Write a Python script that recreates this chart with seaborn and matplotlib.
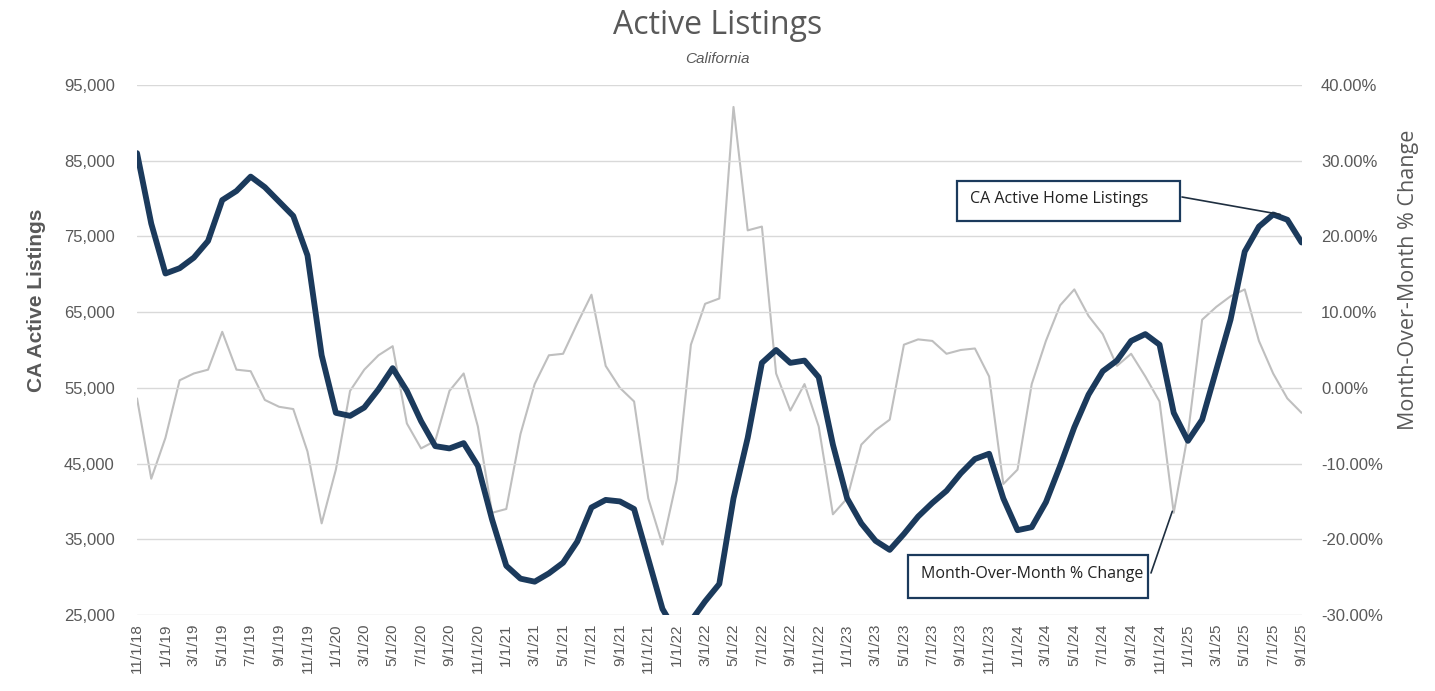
import pandas as pd
import numpy as np
import matplotlib.pyplot as plt
import seaborn as sns
from matplotlib.patches import Rectangle
from matplotlib.ticker import FuncFormatter

# monthly data, 11/1/18 .. 9/1/25
months = pd.date_range("2018-11-01", "2025-09-01", freq="MS")
month_labels = [f"{d.month}/{d.day}/{d.year % 100}" for d in months]

active_listings = [
    86000, 76700, 70100, 70800, 72200, 74400, 79800, 81000, 82900, 81500,
    79600, 77700, 72500, 59300, 51700, 51300, 52400, 54800, 57600, 54600,
    50600, 47300, 47000, 47700, 44700, 37600, 31500, 29800, 29400, 30500,
    31900, 34700, 39200, 40200, 40000, 39000, 32400, 25800, 22600, 24200,
    26800, 29100, 40400, 48400, 58300, 60000, 58300, 58600, 56400, 47500,
    40400, 37100, 34800, 33600, 35700, 38000, 39800, 41400, 43700, 45600,
    46300, 40400, 36200, 36600, 39900, 44700, 49800, 54100, 57200, 58600,
    61200, 62100, 60700, 51700, 48000, 50800, 57400, 64000, 73000, 76300,
    77900, 77200, 74200,
]

mom_change = [
    -1.4, -12.0, -6.6, 1.0, 1.9, 2.4, 7.4, 2.4, 2.2, -1.6,
    -2.5, -2.8, -8.4, -17.9, -10.8, -0.4, 2.4, 4.3, 5.5, -4.7,
    -8.0, -7.0, -0.4, 1.9, -5.1, -16.5, -16.0, -6.1, 0.5, 4.3,
    4.5, 8.5, 12.3, 2.9, 0.0, -1.8, -14.6, -20.7, -12.2, 5.7,
    11.1, 11.8, 37.1, 20.8, 21.3, 1.9, -3.0, 0.5, -5.1, -16.7,
    -14.6, -7.5, -5.6, -4.2, 5.7, 6.4, 6.2, 4.5, 5.0, 5.2,
    1.5, -12.7, -10.8, 0.5, 6.2, 10.9, 13.0, 9.5, 7.1, 2.9,
    4.5, 1.5, -1.8, -16.5, -6.1, 9.0, 10.7, 12.1, 13.0, 6.2,
    1.9, -1.4, -3.3,
]

df = pd.DataFrame({
    "idx": np.arange(len(months)),
    "listings": active_listings,
    "mom": np.array(mom_change) / 100.0,
})

navy = "#1b3a5c"
light = "#bfbfbf"
text_gray = "#595959"

sns.set_style("white")
plt.rcParams["font.family"] = ["Liberation Sans", "DejaVu Sans"]

fig = plt.figure(figsize=(14.35, 6.91), dpi=100)
ax = fig.add_axes([0.0955, 0.11, 0.8115, 0.767])
ax2 = ax.twinx()

# gray month-over-month line on right axis
sns.lineplot(data=df, x="idx", y="mom", ax=ax2, color=light, linewidth=1.5)
# navy listings line on left axis, drawn on top
sns.lineplot(data=df, x="idx", y="listings", ax=ax, color=navy, linewidth=4.2,
             solid_joinstyle="round", solid_capstyle="round")
ax.set_zorder(ax2.get_zorder() + 1)
ax.patch.set_visible(False)

ax.set_xlim(0, len(months) - 1)
ax.set_ylim(25000, 95000)
ax.set_yticks(range(25000, 95001, 10000))
ax.yaxis.set_major_formatter(FuncFormatter(lambda v, p: f"{int(v):,}"))
ax2.set_ylim(-0.30, 0.40)
ax2.set_yticks(np.arange(-0.30, 0.401, 0.10))
ax2.yaxis.set_major_formatter(FuncFormatter(lambda v, p: f"{v * 100:.2f}%"))

ax.set_xticks(df["idx"][::2])
ax.set_xticklabels(month_labels[::2], rotation=90, fontsize=11, color=text_gray)

ax.grid(axis="y", color="#d9d9d9", linewidth=1)
ax.grid(axis="x", visible=False)
ax2.grid(False)
for a in (ax, ax2):
    for s in a.spines.values():
        s.set_visible(False)
ax.tick_params(axis="y", labelsize=12, colors=text_gray, length=0, pad=16)
ax2.tick_params(axis="y", labelsize=12, colors=text_gray, length=0, pad=14)
ax.tick_params(axis="x", length=0, pad=6)

ax.set_xlabel("")
ax.set_ylabel("CA Active Listings", fontsize=15, fontweight="bold", color=text_gray)
ax2.set_ylabel("Month-Over-Month % Change", fontsize=15.5, color=text_gray,
               family=["Open Sans", "DejaVu Sans"])
ax.yaxis.set_label_coords(-0.078, 0.594)
ax2.yaxis.set_label_coords(1.083, 0.632)

fig.text(0.5, 0.963, "Active Listings", ha="center", va="center", fontsize=23,
         color=text_gray, family=["Open Sans", "DejaVu Sans"])
fig.text(0.5, 0.915, "California", ha="center", va="center", fontsize=11,
         style="italic", color=text_gray)

# callout boxes
W, H = 1435, 691
callouts = [
    ("CA Active Home Listings", (957, H - 221, 223, 40), (1182, H - 197), ax, (80.5, 77900)),
    ("Month-Over-Month % Change", (908, H - 598, 240, 43), (1151, H - 573), ax2, (72.9, -0.163)),
]
for label, (bx, by, bw, bh), start, target_ax, target in callouts:
    fig.patches.append(Rectangle((bx / W, by / H), bw / W, bh / H, transform=fig.transFigure,
                                 fill=True, facecolor="white", edgecolor=navy, linewidth=1.6,
                                 zorder=5))
    fig.text((bx + 13) / W, (by + bh / 2 + 2) / H, label, ha="left", va="center",
             fontsize=11.5, color="#222222", zorder=6, family=["Open Sans", "DejaVu Sans"])
    ax.annotate("", xy=target, xycoords=target_ax.transData,
                xytext=start, textcoords="figure pixels",
                arrowprops=dict(arrowstyle="-", color="#1f2f40", linewidth=1.2,
                                shrinkA=0, shrinkB=0))

fig.savefig("out.png", dpi=100)
